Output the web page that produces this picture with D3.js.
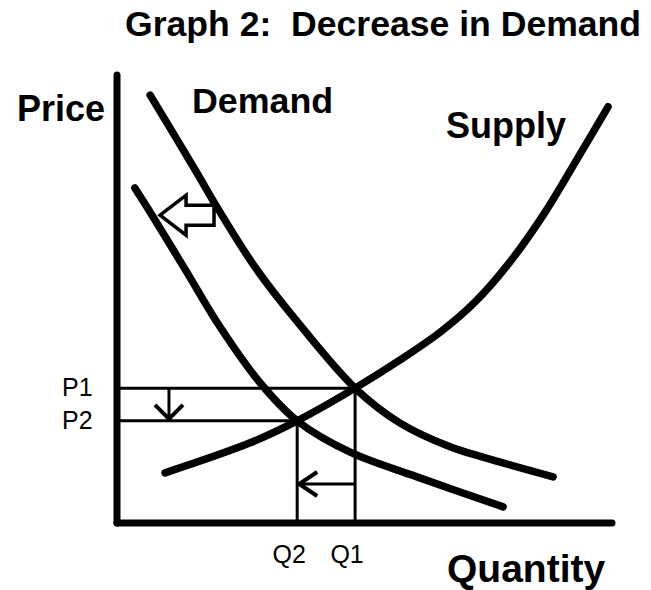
<!DOCTYPE html>
<html>
<head>
<meta charset="utf-8">
<script src="https://cdn.jsdelivr.net/npm/d3@7"></script>
<style>
  html, body { margin: 0; padding: 0; background: #fff; }
  svg { display: block; font-family: "Liberation Sans", Arial, sans-serif; }
</style>
</head>
<body>
<div id="chart"></div>
<script>
// curve points (quantity, price on a 0-100 scale)
var demand1Q = [6.7, 15.8, 20.2, 27.9, 36.0, 48.1, 57.2, 67.3, 73.9, 88.1];
var demand1P = [95.5, 78.8, 70.5, 57.1, 45.5, 30.1, 22.3, 17.0, 14.7, 10.3];

var demand2Q = [3.6, 7.3, 14.1, 20.8, 28.9, 36.4, 47.1, 60.6, 78.0];
var demand2P = [74.8, 68.3, 56.0, 43.8, 31.3, 22.8, 15.8, 10.3, 3.6];

var supplyQ = [9.7, 26.9, 36.4, 48.1, 57.2, 65.3, 72.3, 79.4, 86.5, 93.1, 99.2];
var supplyP = [11.2, 17.9, 22.8, 30.1, 36.4, 42.6, 49.3, 58.3, 69.4, 81.5, 92.9];

// equilibria: old (1) and new (2)
var eqNames = ["1", "2"];
var eqQ = [48.1, 36.4];
var eqP = [30.1, 22.8];

var width = 651, height = 590;

var svg = d3.select("#chart")
  .append("svg")
  .attr("width", width)
  .attr("height", height);

svg.append("rect").attr("width", width).attr("height", height).attr("fill", "#fff");

var x = d3.scaleLinear().domain([0, 100]).range([117, 612]);
var y = d3.scaleLinear().domain([0, 100]).range([523, 75]);

var line = d3.line()
  .x(function(d) { return x(d[0]); })
  .y(function(d) { return y(d[1]); })
  .curve(d3.curveCatmullRom);

function pairs(qs, ps) {
  return qs.map(function(q, i) { return [q, ps[i]]; });
}

// guide lines to the axes
var g = svg.append("g").attr("stroke", "#000").attr("stroke-width", 3);
eqQ.forEach(function(q, i) {
  g.append("line")
    .attr("x1", x(0)).attr("x2", x(q))
    .attr("y1", y(eqP[i])).attr("y2", y(eqP[i]));
  g.append("line")
    .attr("x1", x(q)).attr("x2", x(q))
    .attr("y1", y(eqP[i])).attr("y2", y(0));
});

// small shift arrows: price down, quantity left
var priceArrowQ = 10.5;
g.append("line")
  .attr("x1", x(priceArrowQ)).attr("x2", x(priceArrowQ))
  .attr("y1", y(eqP[0])).attr("y2", y(eqP[1]) - 1);
g.append("path")
  .attr("fill", "none").attr("stroke-width", 4)
  .attr("d", "M" + (x(priceArrowQ) - 14) + "," + (y(eqP[1]) - 16) +
             "L" + x(priceArrowQ) + "," + (y(eqP[1]) - 2) +
             "L" + (x(priceArrowQ) + 14) + "," + (y(eqP[1]) - 16));

var qtyArrowP = 8.7;
g.append("line")
  .attr("x1", x(eqQ[1])).attr("x2", x(eqQ[0]))
  .attr("y1", y(qtyArrowP)).attr("y2", y(qtyArrowP));
g.append("path")
  .attr("fill", "none").attr("stroke-width", 4)
  .attr("d", "M" + (x(eqQ[1]) + 20) + "," + (y(qtyArrowP) - 12) +
             "L" + (x(eqQ[1]) + 2) + "," + y(qtyArrowP) +
             "L" + (x(eqQ[1]) + 20) + "," + (y(qtyArrowP) + 12));

// curves
var curves = [pairs(demand1Q, demand1P), pairs(demand2Q, demand2P), pairs(supplyQ, supplyP)];
svg.selectAll(".curve")
  .data(curves)
  .enter().append("path")
  .attr("class", "curve")
  .attr("d", line)
  .attr("fill", "none")
  .attr("stroke", "#000")
  .attr("stroke-width", 7.5)
  .attr("stroke-linecap", "round");

// hollow arrow showing the demand shift
var shiftP = 68.7, tipQ = 8.7, tailQ = 19.6;
var tx = x(tipQ), ty = y(shiftP), bx = tx + 26, ex = x(tailQ);
svg.append("path")
  .attr("d", "M" + tx + "," + ty +
             "L" + bx + "," + (ty - 20) +
             "L" + bx + "," + (ty - 10) +
             "L" + ex + "," + (ty - 10) +
             "L" + ex + "," + (ty + 10) +
             "L" + bx + "," + (ty + 10) +
             "L" + bx + "," + (ty + 20) + "Z")
  .attr("fill", "#fff")
  .attr("stroke", "#000")
  .attr("stroke-width", 3.5)
  .attr("stroke-linejoin", "miter");

// axes
var axis = svg.append("g").attr("stroke", "#000").attr("stroke-width", 7).attr("stroke-linecap", "round");
axis.append("line").attr("x1", x(0)).attr("x2", x(0)).attr("y1", y(100)).attr("y2", y(0));
axis.append("line").attr("x1", x(0)).attr("x2", x(100)).attr("y1", y(0)).attr("y2", y(0));

// text
svg.append("text")
  .attr("x", 125).attr("y", 36)
  .attr("font-size", 35.6).attr("font-weight", "bold")
  .style("white-space", "pre")
  .text("Graph 2:  Decrease in Demand");

var bold = [
  { t: "Price", x: 17, y: 121, s: 36 },
  { t: "Demand", x: 192, y: 113, s: 35.8 },
  { t: "Supply", x: 446, y: 138, s: 36 },
  { t: "Quantity", x: 447, y: 582, s: 39 }
];
svg.selectAll(".lbl")
  .data(bold)
  .enter().append("text")
  .attr("class", "lbl")
  .attr("x", function(d) { return d.x; })
  .attr("y", function(d) { return d.y; })
  .attr("font-size", function(d) { return d.s; })
  .attr("font-weight", "bold")
  .text(function(d) { return d.t; });

eqNames.forEach(function(n, i) {
  svg.append("text")
    .attr("x", 62).attr("y", y(eqP[i]) + 8)
    .attr("font-size", 25)
    .text("P" + n);
  svg.append("text")
    .attr("x", x(eqQ[i]) - 8).attr("y", 563)
    .attr("text-anchor", "middle")
    .attr("font-size", 25)
    .text("Q" + n);
});
</script>
</body>
</html>
